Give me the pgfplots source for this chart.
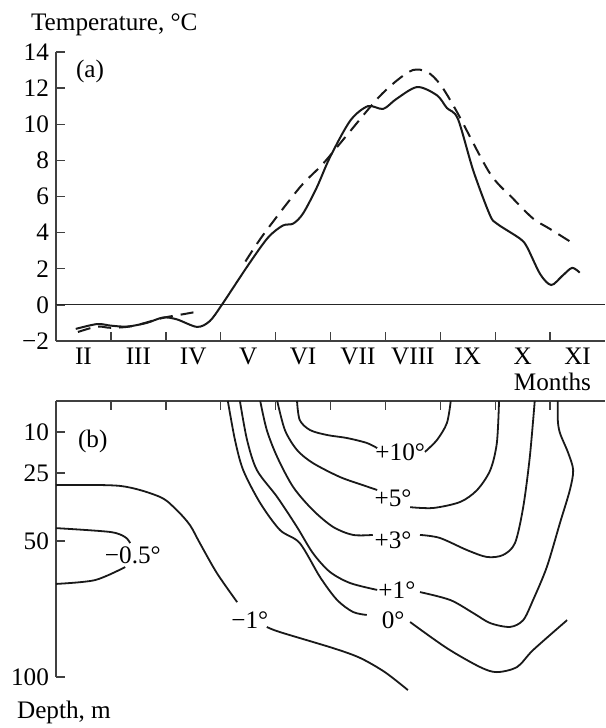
\documentclass[border=0pt]{standalone}
\usepackage{fontspec}
\setmainfont{Liberation Serif}
\usepackage{pgfplots}
\pgfplotsset{compat=1.18}
\begin{document}
\begin{tikzpicture}[font=\fontsize{12.6}{15}\selectfont]
\useasboundingbox (0pt,0pt) rectangle (302.5pt,-364pt);
\pgfplotsset{
  every axis/.append style={
    scale only axis, width=274.5pt, clip=false,
    xmin=0, xmax=10,
    axis line style={line width=0.7pt, black!75},
    tick style={line width=0.7pt, black!75},
    tick align=inside, major tick length=4.5pt,
    tick label style={font=\fontsize{12.6}{15}\selectfont},
    /pgf/number format/assume math mode=true,
  },
  curve/.style={line width=1pt, black!90, smooth},
  iso/.style={line width=0.9pt, black!90, smooth},
}
% (a) temperature
\begin{axis}[
  at={(28pt,-26pt)}, anchor=north west, height=144.5pt,
  ymin=-2, ymax=14,
  axis x line*=bottom, axis y line*=left,
  xtick={1,...,9}, xticklabels={},
  extra x ticks={0.5,1.5,2.5,3.5,4.5,5.5,6.5,7.5,8.5,9.5},
  extra x tick labels={II,III,IV,V,VI,VII,VIII,IX,X,XI},
  extra x tick style={major tick length=0pt},
  ytick={-2,0,2,4,6,8,10,12,14},
  yticklabels={−2,0,2,4,6,8,10,12,14},
]
\addplot[line width=0.5pt, black!85] coordinates {(0,0) (10,0)};
\addplot[curve] coordinates {
  (0.36,-1.33) (0.75,-1.06) (1.0,-1.15) (1.3,-1.2) (1.65,-1.0) (1.95,-0.7)
  (2.2,-0.8) (2.57,-1.22) (2.8,-0.9) (3.02,0) (3.5,2.2) (3.86,3.72)
  (4.13,4.39) (4.32,4.5) (4.5,5.06) (4.75,6.5) (4.99,8.17) (5.36,10.2)
  (5.68,11.0) (5.96,10.85) (6.2,11.4) (6.58,12.06) (6.94,11.6) (7.12,10.9)
  (7.32,10.3) (7.6,7.44) (7.9,5.0) (8.03,4.5) (8.45,3.67) (8.58,3.2)
  (8.82,1.7) (9.02,1.1) (9.22,1.6) (9.4,2.05) (9.54,1.78)};
\addplot[curve, dash pattern=on 6.5pt off 4pt] coordinates {
  (0.4,-1.5) (0.75,-1.2) (1.0,-1.27) (1.4,-1.17) (1.95,-0.72) (2.35,-0.5) (2.53,-0.4)};
\addplot[curve, dash pattern=on 6.5pt off 4pt] coordinates {
  (3.45,2.4) (3.78,3.9) (4.44,6.5) (4.86,7.8) (5.3,9.4) (5.85,11.4)
  (6.2,12.4) (6.5,13.0) (6.76,12.9) (7.0,12.2) (7.3,10.7) (7.9,7.3)
  (8.32,5.9) (8.69,4.78) (9.0,4.2) (9.42,3.4)};
\node at (axis cs:0.62,12.9) {(a)};
\node[anchor=base west] at ([xshift=-16pt,yshift=11pt]axis description cs:0,1) {Temperature, °C};
\node[anchor=base east] at ([xshift=-3.5pt,yshift=-24.5pt]axis description cs:1,0) {Months};
\end{axis}
% (b) isotherms
\begin{axis}[
  at={(28pt,-200.5pt)}, anchor=north west, height=138pt,
  ymin=-1.4, ymax=100, y dir=reverse,
  axis x line*=top, axis y line*=left,
  xtick={1,...,9}, xticklabels={},
  ytick={10,25,50,100}, yticklabels={10,25,50,100},
]
% -1
\addplot[iso] coordinates {(0,29.5) (1.17,29.8) (1.89,33.8) (2.2,38.7) (2.44,44.2)
  (2.62,50.8) (2.93,61.8) (3.3,72.5)};
\addplot[iso] coordinates {(3.84,81.6) (4.08,83.5) (5.05,89.4) (5.54,93.0) (5.99,98.2) (6.41,104.8)};
\node at (axis cs:3.53,79.1) {−1°};
% -0.5
\addplot[iso] coordinates {(0,45.3) (0.98,46.7) (1.26,48.6) (1.35,50.8)};
\addplot[iso] coordinates {(1.26,59.6) (0.71,64.4) (0,65.8)};
\node at (axis cs:1.40,55.2) {−0.5°};
% 0
\addplot[iso] coordinates {(3.13,-1.4) (3.26,12.9) (3.41,24.0) (3.72,36.1) (4.08,46.0)
  (4.44,50.8) (4.81,63.3) (5.12,71.7) (5.41,76.1) (5.66,77.2)};
\addplot[iso] coordinates {(6.45,79.8) (7.12,89.4) (7.72,96.3) (8.03,98.2) (8.40,96.3)
  (8.69,90.1) (9.31,79.1)};
\node at (axis cs:6.14,79.1) {0°};
% +1
\addplot[iso] coordinates {(3.35,-1.4) (3.48,12.9) (3.66,24.0) (4.03,33.9) (4.39,44.9)
  (4.68,54.5) (4.99,61.4) (5.36,65.5) (5.85,68.0)};
\addplot[iso] coordinates {(6.63,68.8) (7.18,71.7) (7.60,76.5) (7.91,80.2) (8.27,81.6)
  (8.51,79.1) (8.69,71.7) (8.94,59.6) (9.18,43.4) (9.36,31.3) (9.42,24.0)
  (9.33,17.7) (9.18,10.4) (9.14,5.6) (9.14,-1.4)};
\node at (axis cs:6.21,68.0) {+1°};
% +3
\addplot[iso] coordinates {(3.72,-1.4) (3.84,9.3) (4.03,19.2) (4.32,30.2) (4.68,38.7)
  (5.05,44.9) (5.41,47.8) (5.77,47.8)};
\addplot[iso] coordinates {(6.63,47.8) (6.99,48.9) (7.49,53.4) (7.85,55.9) (8.14,55.2)
  (8.36,50.8) (8.51,37.6) (8.63,19.2) (8.72,-1.4)};
\node at (axis cs:6.14,49.7) {+3°};
% +5
\addplot[iso] coordinates {(4.03,-1.4) (4.17,9.3) (4.39,16.6) (4.68,21.4) (5.17,26.5)
  (5.59,29.5) (5.85,31.3)};
\addplot[iso] coordinates {(6.45,37.6) (6.87,37.9) (7.36,35.7) (7.67,31.3) (7.91,24.0)
  (8.03,14.0) (8.07,-1.4)};
\node at (axis cs:6.14,34.2) {+5°};
% +10
\addplot[iso] coordinates {(4.39,-1.4) (4.44,5.6) (4.63,9.3) (4.94,11.1) (5.30,12.2)
  (5.66,14.0) (5.85,15.9)};
\addplot[iso] coordinates {(6.72,17.3) (6.94,12.9) (7.12,6.7) (7.19,-1.4)};
\node at (axis cs:6.27,17.3) {+10°};
\node at (axis cs:0.67,13.3) {(b)};
\node[anchor=base west] at ([xshift=-23pt,yshift=-20.5pt]axis description cs:0,0) {Depth, m};
\end{axis}
\end{tikzpicture}
\end{document}
